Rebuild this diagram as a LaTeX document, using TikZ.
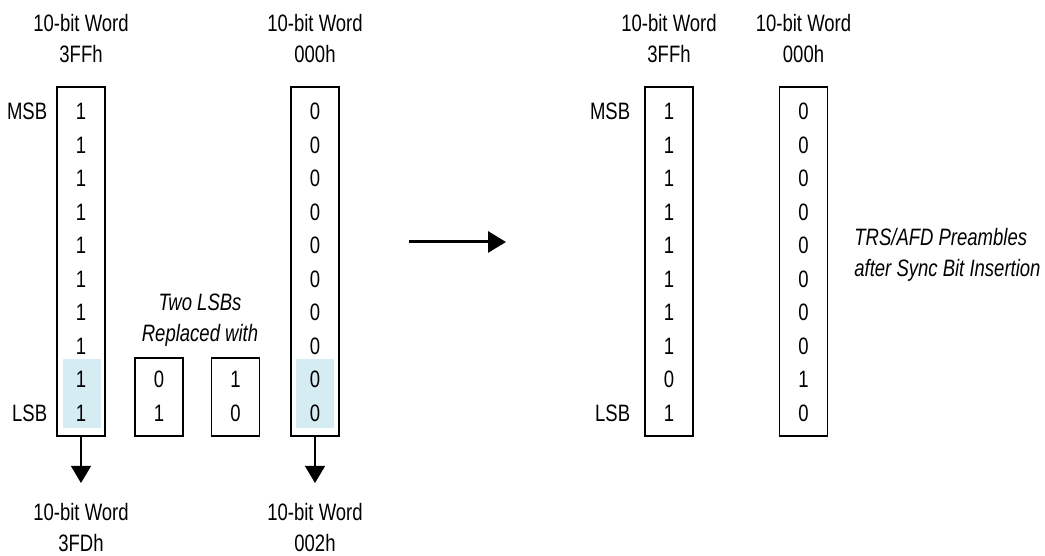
\documentclass[tikz,border=0pt]{standalone}
\usepackage{fontspec}
\setmainfont[FakeStretch=0.78]{Liberation Sans}
\usetikzlibrary{arrows.meta}

\definecolor{lsbblue}{RGB}{213,236,242}

\tikzset{
  wordbox/.style={draw, line width=0.6pt, minimum width=0.96cm, minimum height=6.98cm, inner sep=0pt},
  pairbox/.style={draw, line width=0.6pt, minimum width=0.96cm, minimum height=1.56cm, inner sep=0pt},
  bit/.style={anchor=base, inner sep=0pt, font=\fontsize{13.5}{17.5}\selectfont},
  lbl/.style={align=center, inner sep=0pt, font=\fontsize{13.5}{17.5}\selectfont},
  note/.style={lbl, font=\fontsize{13.5}{17.5}\selectfont\itshape},
  down/.style={line width=0.6pt, -{Triangle[width=0.4cm,length=0.34cm]}}
}

\begin{document}
\begin{tikzpicture}
\useasboundingbox (0,0) rectangle (20.9,11.12);

% Highlight the two LSBs of the input words
\fill[lsbblue] (1.25,2.566) rectangle (2.02,3.934);
\fill[lsbblue] (5.92,2.566) rectangle (6.68,3.934);

% Draw the word boxes
\node[wordbox] (A) at (1.62,5.89) {};
\node[wordbox] (B) at (6.30,5.89) {};
\node[wordbox] (E) at (13.38,5.89) {};
\node[wordbox] (F) at (16.07,5.89) {};

% Draw the two replacement boxes
\node[pairbox] (C) at (3.18,3.18) {};
\node[pairbox] (D) at (4.71,3.18) {};

% Fill in the bits, MSB at the top
\foreach \b [count=\i from 0] in {1,1,1,1,1,1,1,1,1,1}
  \node[bit] (A\i) at (1.62,8.72-0.67*\i) {\b};
\foreach \b [count=\i from 0] in {0,0,0,0,0,0,0,0,0,0}
  \node[bit] (B\i) at (6.30,8.72-0.67*\i) {\b};
\foreach \b [count=\i from 0] in {1,1,1,1,1,1,1,1,0,1}
  \node[bit] (E\i) at (13.38,8.72-0.67*\i) {\b};
\foreach \b [count=\i from 0] in {0,0,0,0,0,0,0,0,1,0}
  \node[bit] (F\i) at (16.07,8.72-0.67*\i) {\b};

\node[bit] (C8) at (3.18,3.36) {0};
\node[bit] (C9) at (3.18,2.69) {1};
\node[bit] (D8) at (4.71,3.36) {1};
\node[bit] (D9) at (4.71,2.69) {0};

% Label the MSB and LSB rows
\node[bit, anchor=base east] (msbA) at (0.95,8.72) {MSB};
\node[bit, anchor=base east] (lsbA) at (0.95,2.69) {LSB};
\node[bit, anchor=base east] (msbE) at (12.61,8.72) {MSB};
\node[bit, anchor=base east] (lsbE) at (12.61,2.69) {LSB};

% Label the words
\node[lbl] (topA) at (1.62,10.35) {10-bit Word\\3FFh};
\node[lbl] (topB) at (6.30,10.35) {10-bit Word\\000h};
\node[lbl] (topE) at (13.38,10.35) {10-bit Word\\3FFh};
\node[lbl] (topF) at (16.07,10.35) {10-bit Word\\000h};
\node[lbl] (botA) at (1.62,0.57) {10-bit Word\\3FDh};
\node[lbl] (botB) at (6.30,0.57) {10-bit Word\\002h};

% Notes
\node[note] (rep) at (4.0,4.72) {Two LSBs\\Replaced with};
\node[note, anchor=west, align=left] (trs) at (17.08,6.02) {TRS/AFD Preambles\\after Sync Bit Insertion};

% Draw the output arrows
\coordinate (Aout) at (1.62,1.46);
\coordinate (Bout) at (6.30,1.46);
\draw[down] (A) -- (Aout);
\draw[down] (B) -- (Bout);

% Draw the main arrow
\coordinate (go) at (8.18,6.28);
\coordinate (done) at (10.12,6.28);
\draw[line width=1.7pt, -{Triangle[width=0.42cm,length=0.36cm]}] (go) -- (done);

\end{tikzpicture}
\end{document}
